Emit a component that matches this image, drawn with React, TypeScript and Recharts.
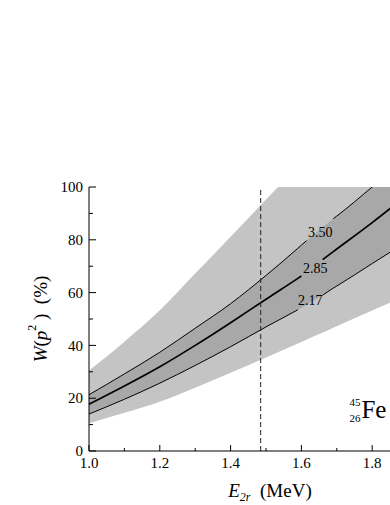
import React from 'react';
import { ComposedChart, Area, Line, XAxis, YAxis, ReferenceLine, ReferenceDot } from 'recharts';

// E_2r (MeV)
const energies = [1.0, 1.1, 1.2, 1.3, 1.4, 1.5, 1.59, 1.6, 1.615, 1.66, 1.69, 1.7, 1.8, 1.9, 2.0];
// W(p^2) (%) curves
const w350 = [21.3, 29.2, 37.4, 46.5, 55.8, 66.5, 76.8, 78, 79.7, 84.7, 88, 89, 100, 111, 122];
const w285 = [17.7, 24.6, 31.9, 40, 48.6, 57.5, 65.4, 66.3, 67.8, 72.5, 75.5, 76.5, 86.5, 97, 107];
const w217 = [14.0, 19.6, 25.7, 32.4, 39.5, 47, 53.5, 54.2, 55.4, 59, 61.7, 62.5, 71, 79.5, 88];
const bandHigh = [30.5, 41.4, 53.3, 67.2, 81.2, 95.3, 108, 109.5, 111.5, 118, 122, 123.5, 138, 152, 166];
const bandLow = [10.5, 14.5, 18.7, 24.0, 29.6, 35.4, 40.7, 41.3, 42.2, 44.9, 46.7, 47.3, 53.2, 59, 65];

const curveNames = ['3.50', '2.85', '2.17'];
const curveGaps = [[1.615, 1.69], [1.6, 1.66], [1.59, 1.66]];
const curveLabelE = [1.653, 1.639, 1.625];
const curveLabelW = [83, 69.3, 57.2];

const xTicks = [1.0, 1.1, 1.2, 1.3, 1.4, 1.5, 1.6, 1.7, 1.8, 1.9, 2.0];
const yTicks = [0, 10, 20, 30, 40, 50, 60, 70, 80, 90, 100];
const markerE = 1.485;
const nucleusE = 1.7695;
const nucleusW = 12.4;

const FONT = "'Liberation Serif', 'DejaVu Serif', 'Times New Roman', serif";
const TS: React.CSSProperties = { fontFamily: FONT };

const data = energies.map((e, i) => ({
  e,
  high: bandHigh[i],
  low: bandLow[i],
  a: w350[i],
  b: w285[i],
  c: w217[i],
}));

const curveKeys = ['a', 'b', 'c'];

const XTick = (props: any) => {
  const { x, y, payload } = props;
  const major = Math.round(payload.value * 10) % 2 === 0;
  return (
    <g>
      <line x1={x} y1={y} x2={x} y2={y - (major ? 6 : 3)} stroke="#000" strokeWidth={1} />
      {major && (
        <text x={x} y={y + 17} textAnchor="middle" fontFamily={FONT} style={TS} fontSize={15} fill="#000">
          {payload.value.toFixed(1)}
        </text>
      )}
    </g>
  );
};

const TopTick = (props: any) => {
  const { x, y, payload } = props;
  const major = Math.round(payload.value * 10) % 2 === 0;
  return <line x1={x} y1={y} x2={x} y2={y + (major ? 6 : 3)} stroke="#000" strokeWidth={1} />;
};

const YTick = (props: any) => {
  const { x, y, payload } = props;
  const major = payload.value % 20 === 0;
  return (
    <g>
      <line x1={x} y1={y} x2={x + (major ? 7 : 4)} y2={y} stroke="#000" strokeWidth={1} />
      {major && (
        <text x={x - 6} y={y} dy="0.35em" textAnchor="end" fontFamily={FONT} style={TS} fontSize={15} fill="#000">
          {payload.value}
        </text>
      )}
    </g>
  );
};

const XTitle = (props: any) => {
  const vb = props.viewBox;
  const cx = vb.x + vb.width / 2 + 4;
  return (
    <text x={cx} y={vb.y + 46} textAnchor="middle" fontFamily={FONT} style={{ ...TS, whiteSpace: 'pre' }} fontSize={19} fill="#000">
      <tspan fontStyle="italic">E</tspan>
      <tspan fontStyle="italic" fontSize={12} dy={4}>2r</tspan>
      <tspan dy={-4}>{'  (MeV)'}</tspan>
    </text>
  );
};

const YTitle = (props: any) => {
  const vb = props.viewBox;
  const cx = vb.x + 11;
  const cy = vb.y + vb.height / 2;
  return (
    <text
      x={cx}
      y={cy}
      transform={`rotate(-90 ${cx} ${cy})`}
      textAnchor="middle"
      dominantBaseline="central"
      fontSize={19}
      fill="#000"
      fontFamily={FONT}
      style={{ ...TS, whiteSpace: 'pre' }}
    >
      <tspan fontStyle="italic">W</tspan>
      <tspan>(</tspan>
      <tspan fontStyle="italic">p</tspan>
      <tspan fontSize={12} dy={-8}>2</tspan>
      <tspan dy={8}>{' )  (%)'}</tspan>
    </text>
  );
};

const CurveLabel = (text: string) => (props: any) => {
  const vb = props.viewBox;
  const cx = vb.x + vb.width / 2;
  const cy = vb.y + vb.height / 2;
  return (
    <text x={cx} y={cy} dy="0.35em" textAnchor="middle" fontFamily={FONT} style={TS} fontSize={14} fill="#000">
      {text}
    </text>
  );
};

const NucleusLabel = (props: any) => {
  const vb = props.viewBox;
  const x = vb.x + vb.width / 2;
  const y = vb.y + vb.height / 2;
  return (
    <g fill="#000">
      <text x={x - 1} y={y - 12} textAnchor="end" fontFamily={FONT} style={TS} fontSize={11}>45</text>
      <text x={x - 1} y={y + 3.5} textAnchor="end" fontFamily={FONT} style={TS} fontSize={11}>26</text>
      <text x={x} y={y} fontFamily={FONT} style={TS} fontSize={25}>Fe</text>
    </g>
  );
};

export default function App() {
  return (
    <div style={{ position: 'fixed', left: 0, top: 0, width: 390, height: 505, overflow: 'hidden', background: '#fff', fontFamily: FONT }}>
      <ComposedChart
        width={470}
        height={505}
        data={data}
        margin={{ top: 187, right: 27, bottom: 24, left: 29 }}
        style={{ fontFamily: FONT }}
      >
        <XAxis
          dataKey="e"
          type="number"
          domain={[1, 2]}
          ticks={xTicks}
          interval={0}
          tickLine={false}
          tickSize={0}
          tickMargin={0}
          tick={<XTick />}
          axisLine={{ stroke: '#000', strokeWidth: 1 }}
          height={30}
          label={<XTitle />}
        />
        <XAxis
          xAxisId="top"
          orientation="top"
          dataKey="e"
          type="number"
          domain={[1, 2]}
          ticks={xTicks}
          interval={0}
          tickLine={false}
          tickSize={0}
          tickMargin={0}
          tick={<TopTick />}
          axisLine={{ stroke: '#000', strokeWidth: 1 }}
          height={0}
        />
        <YAxis
          type="number"
          domain={[0, 100]}
          allowDataOverflow
          ticks={yTicks}
          interval={0}
          tickLine={false}
          tickSize={0}
          tickMargin={0}
          tick={<YTick />}
          axisLine={{ stroke: '#000', strokeWidth: 1 }}
          width={60}
          label={<YTitle />}
        />
        <Area
          type="monotone"
          dataKey={(d: any) => [d.low, d.high]}
          stroke="none"
          fill="#c4c4c4"
          fillOpacity={1}
          isAnimationActive={false}
          dot={false}
          activeDot={false}
        />
        <Area
          type="monotone"
          dataKey={(d: any) => [d.c, d.a]}
          stroke="none"
          fill="#a8a8a8"
          fillOpacity={1}
          isAnimationActive={false}
          dot={false}
          activeDot={false}
        />
        {curveKeys.map((k, i) => (
          <Line
            key={k}
            type="monotone"
            dataKey={(d: any) => (d.e > curveGaps[i][0] && d.e < curveGaps[i][1] ? null : d[k])}
            stroke="#000"
            strokeWidth={k === 'b' ? 1.7 : 1}
            dot={false}
            activeDot={false}
            connectNulls={false}
            isAnimationActive={false}
          />
        ))}
        <ReferenceLine x={markerE} stroke="#222" strokeWidth={1} strokeDasharray="5 3" />
        {curveNames.map((n, i) => (
          <ReferenceDot
            key={n}
            x={curveLabelE[i]}
            y={curveLabelW[i]}
            r={1}
            fill="none"
            stroke="none"
            label={CurveLabel(n)}
          />
        ))}
        <ReferenceDot x={nucleusE} y={nucleusW} r={1} fill="none" stroke="none" label={NucleusLabel} />
      </ComposedChart>
    </div>
  );
}
